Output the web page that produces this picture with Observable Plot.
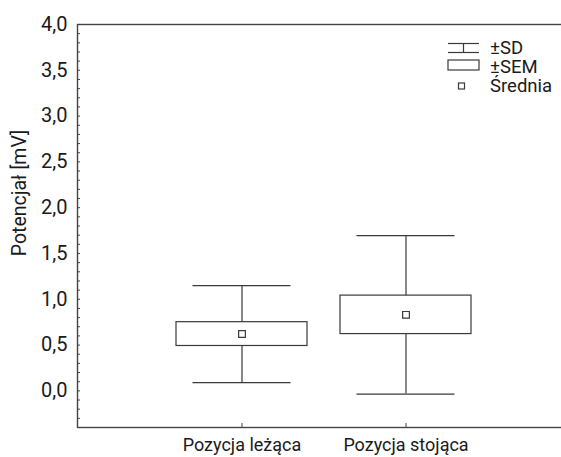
<!DOCTYPE html>
<html>
<head>
<meta charset="utf-8">
<script src="https://cdn.jsdelivr.net/npm/d3@7"></script>
<script src="https://cdn.jsdelivr.net/npm/@observablehq/plot@0.6"></script>
<style>
  body { margin: 0; background: #fff; }
  #chart {
    position: relative;
    width: 561px;
    height: 457px;
    font-family: Roboto, "Liberation Sans", sans-serif;
  }
  #legend { position: absolute; overflow: visible; }
</style>
</head>
<body>
<div id="chart"></div>
<script>
// Potential (mV) by body position: mean, ±SEM box, ±SD whiskers
const categories = ["Pozycja leżąca", "Pozycja stojąca"];
const means = [0.62, 0.83];
const sems = [0.13, 0.21];
const sds = [0.53, 0.865];

const yTicks = [0, 0.5, 1, 1.5, 2, 2.5, 3, 3.5, 4];
const yDomain = [-0.4, 4.0];
const yTitle = "Potencjał [mV]";
const legendLabels = ["±SD", "±SEM", "Średnia"];

const rows = categories.map((category, i) => ({
  category,
  mean: means[i],
  sem: sems[i],
  sd: sds[i]
}));

const minorTicks = d3.ticks(yDomain[0], yDomain[1], 44);
const ink = "#3a3a3a";
const textInk = "#1a1a1a";
const fontFamily = 'Roboto, "Liberation Sans", sans-serif';
const comma = d => d.toFixed(1).replace(".", ",");

const chart = Plot.plot({
  width: 561,
  height: 457,
  marginLeft: 77,
  marginRight: -10,
  marginTop: 24,
  marginBottom: 30,
  style: { fontFamily, fontSize: "20px", color: textInk, background: "white" },
  x: {
    domain: categories,
    paddingInner: 0.2,
    paddingOuter: 0.6,
    axis: null
  },
  y: {
    domain: yDomain,
    ticks: yTicks,
    tickFormat: comma,
    tickSize: 0,
    tickPadding: 10,
    label: null
  },
  marks: [
    Plot.frame({ stroke: "#444", strokeWidth: 1.4 }),
    // small inward ticks along the value axis
    Plot.tickY(minorTicks, { y: d => d, stroke: "#444", insetRight: 491 }),
    // inward category ticks on the bottom edge
    Plot.tickX(categories, { x: d => d, stroke: "#444", insetTop: 399 }),
    // category labels under the frame
    Plot.text(categories, { x: d => d, text: d => d, frameAnchor: "bottom", lineAnchor: "top", dy: 11, fontSize: 18, fill: textInk }),
    // ±SD whiskers and caps
    Plot.ruleX(rows, { x: "category", y1: d => d.mean - d.sd, y2: d => d.mean + d.sd, stroke: ink, strokeWidth: 1.2 }),
    Plot.tickY(rows, { x: "category", y: d => d.mean + d.sd, stroke: ink, strokeWidth: 1.2, insetLeft: 16.5, insetRight: 16.5 }),
    Plot.tickY(rows, { x: "category", y: d => d.mean - d.sd, stroke: ink, strokeWidth: 1.2, insetLeft: 16.5, insetRight: 16.5 }),
    // ±SEM boxes
    Plot.barY(rows, { x: "category", y1: d => d.mean - d.sem, y2: d => d.mean + d.sem, fill: "white", stroke: ink, strokeWidth: 1.2 }),
    // mean markers
    Plot.dot(rows, { x: "category", y: "mean", symbol: "square", r: 3.8, fill: "white", stroke: ink, strokeWidth: 1.2 }),
    // value axis title
    Plot.text([yTitle], { text: d => d, frameAnchor: "left", textAnchor: "middle", lineAnchor: "middle", rotate: -90, dx: -58, dy: -33, fontSize: 19.5, fill: textInk })
  ]
});

const root = document.getElementById("chart");
root.append(chart);

// Legend: ±SD whisker, ±SEM box, mean marker
const lg = d3.select(root).append("svg")
  .attr("id", "legend")
  .attr("width", 121)
  .attr("height", 64)
  .style("left", "440px")
  .style("top", "36px")
  .style("font-family", fontFamily)
  .style("font-size", "18.5px");

const sdIcon = lg.append("g").attr("stroke", ink).attr("stroke-width", 1.2);
sdIcon.append("line").attr("x1", 8).attr("x2", 39).attr("y1", 7.5).attr("y2", 7.5);
sdIcon.append("line").attr("x1", 8).attr("x2", 39).attr("y1", 16.5).attr("y2", 16.5);
sdIcon.append("line").attr("x1", 23.5).attr("x2", 23.5).attr("y1", 7.5).attr("y2", 16.5);

lg.append("rect").attr("x", 8).attr("y", 24).attr("width", 31).attr("height", 10)
  .attr("fill", "white").attr("stroke", ink).attr("stroke-width", 1.2);

lg.append("rect").attr("x", 18.5).attr("y", 47).attr("width", 6).attr("height", 6)
  .attr("fill", "white").attr("stroke", ink).attr("stroke-width", 1.2);

lg.selectAll("text.lab")
  .data(legendLabels)
  .join("text")
  .attr("class", "lab")
  .attr("x", 50)
  .attr("y", (d, i) => 18 + i * 19)
  .attr("fill", textInk)
  .text(d => d);
</script>
</body>
</html>
